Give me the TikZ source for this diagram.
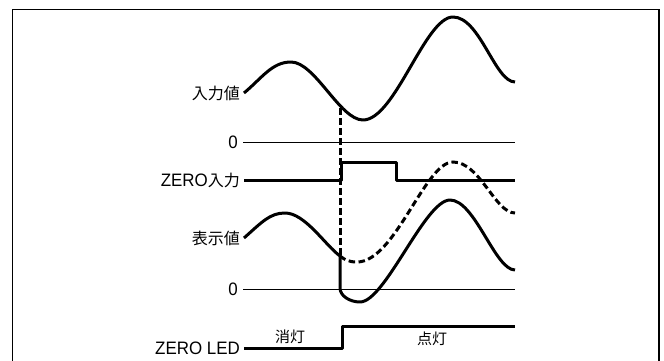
\documentclass[tikz,border=0pt]{standalone}
\usepackage{fontspec}
\setmainfont[FakeStretch=0.94]{Liberation Sans}
\newfontfamily\jp{Noto Sans CJK JP}
\begin{document}
\begin{tikzpicture}[x=1pt,y=-1pt,
  lab/.style={anchor=east,inner xsep=0pt,inner ysep=0pt,text height=12.9pt,text depth=0pt,font=\fontsize{18}{18}\selectfont},
  jplab/.style={inner sep=0pt,font=\jp\fontsize{15}{15}\selectfont},
  sig/.style={line width=3pt,line join=round},
  zeroline/.style={line width=1pt},
  dsh/.style={line width=3pt,dash pattern=on 6.5pt off 3.5pt}]
\useasboundingbox (0,0) rectangle (664,361);
\draw[line width=1.1pt] (12.3,362) -- (12.3,9.5) -- (659,9.5) -- (659,362);
% labels
\node[lab] (in) at (240,93) {\fontsize{16}{16}\jp 入力値};
\node[lab] (z1) at (238,142) {0};
\node[lab] (zi) at (240,180) {ZERO{\fontsize{16}{16}\jp 入力}};
\node[lab] (disp) at (240,238) {\fontsize{16}{16}\jp 表示値};
\node[lab] (z2) at (238,289) {0};
\node[lab] (led) at (240,348) {ZERO LED};
\node[jplab] (off) at (290,337) {消灯};
\node[jplab] (on) at (432,339) {点灯};
% key points
\coordinate (cuttop) at (340,108);
\coordinate (cutbot) at (340,256);
% dashed vertical
\draw[dsh] (cuttop) -- (cutbot);
% zero lines
\draw[zeroline] (243,142) -- (515,142);
\draw[zeroline] (243,289) -- (515,289);
% input value
\draw[sig] (244,93) .. controls (262,78) and (272,62) .. (291,62)
  .. controls (315,62) and (340,120) .. (363,120)
  .. controls (395,120) and (425,17) .. (453,17)
  .. controls (480,17) and (495,82) .. (515,82);
% ZERO input
\draw[sig] (244,180) -- (341,180) -- (341,162) -- (396,162) -- (396,180) -- (515,180);
% display dashed continuation
\draw[dsh] (cutbot) .. controls (345,260) and (349,262) .. (357,262)
  .. controls (395,262) and (425,162) .. (453,162)
  .. controls (480,162) and (495,213) .. (515,213);
% display value
\draw[sig] (244,238) .. controls (262,222) and (270,213) .. (285,213)
  .. controls (305,213) and (325,245) .. (cutbot) -- (340,288)
  .. controls (340,296) and (350,302) .. (360,302)
  .. controls (385,302) and (425,200) .. (450,200)
  .. controls (475,200) and (495,270) .. (515,270);
% LED
\draw[sig] (244,348) -- (342,348) -- (342,326) -- (515,326);
\end{tikzpicture}
\end{document}
